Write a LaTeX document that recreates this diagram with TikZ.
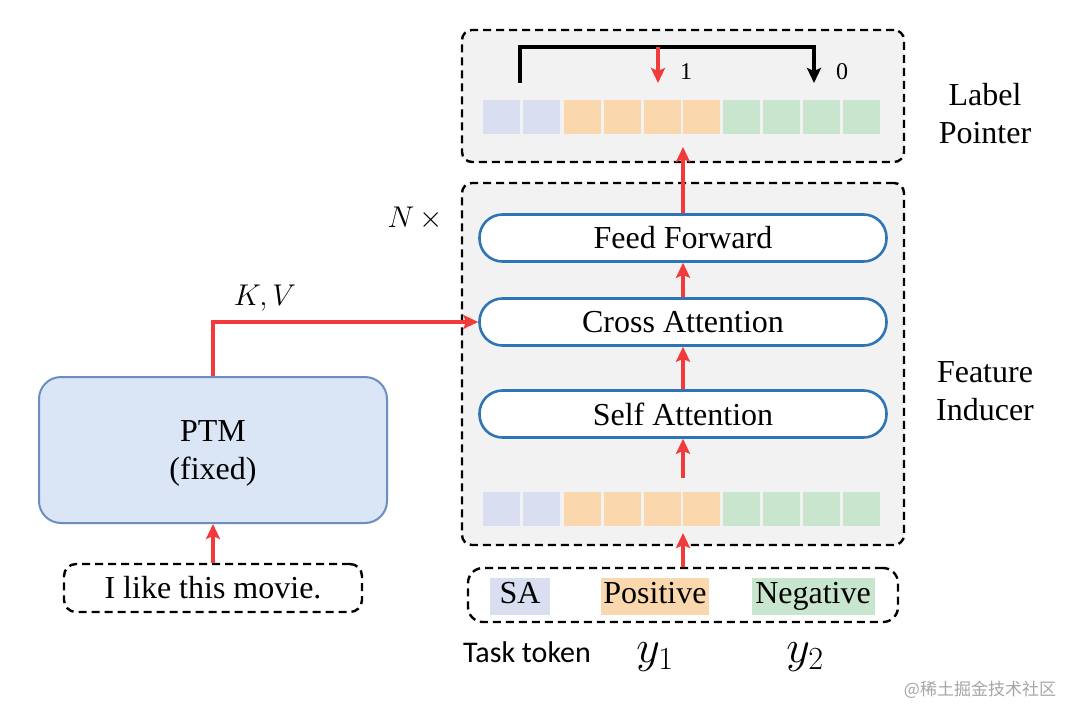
\documentclass[tikz,border=0pt]{standalone}
\usepackage{fix-cm}
\usepackage{fontspec}
\setmainfont{Liberation Serif}
\newfontfamily\calib{Carlito}
\newfontfamily\cjk{Noto Sans CJK SC}
\usetikzlibrary{arrows.meta}
\definecolor{boxgray}{HTML}{F2F2F2}
\definecolor{redarr}{HTML}{F23A3A}
\definecolor{pillblue}{HTML}{2E75B6}
\definecolor{ptmfill}{HTML}{DAE6F6}
\definecolor{ptmdraw}{HTML}{6C8EBF}
\definecolor{tokblue}{HTML}{D9DFF0}
\definecolor{tokorange}{HTML}{FAD7AC}
\definecolor{tokgreen}{HTML}{C8E6CE}
\tikzset{
  dashbox/.style={draw=black, line width=2.4pt, dash pattern=on 8pt off 5pt, rounded corners=10pt, inner sep=0pt},
  grayfill/.style={fill=boxgray},
  pill/.style={draw=pillblue, line width=2.6pt, fill=white, rounded corners=23pt, minimum width=407pt, minimum height=47pt, inner sep=0pt, font=\fontsize{32}{38}\selectfont},
  redarrow/.style={draw=redarr, line width=3.6pt, -{Stealth[length=15pt,width=14pt,inset=3pt]}},
  blackarrow/.style={draw=black, line width=3.4pt, -{Stealth[length=15pt,width=14pt,inset=3pt]}},
  tok/.style={minimum width=37pt, minimum height=34pt, inner sep=0pt, draw=none},
  chip/.style={minimum height=37pt, inner sep=0pt, text height=22pt, text depth=7pt, font=\fontsize{32}{38}\selectfont},
  bigtext/.style={font=\fontsize{32}{38}\selectfont, align=center, inner sep=0pt},
}
\begin{document}
\begin{tikzpicture}[x=1pt,y=-1pt]
\useasboundingbox[fill=white] (0,0) rectangle (1079,720);

% containers
\node[dashbox, grayfill, minimum width=442pt, minimum height=132pt] (lp) at (683,96) {};
\node[dashbox, grayfill, minimum width=442pt, minimum height=362pt] (fi) at (683,364) {};
\node[dashbox, rounded corners=15pt, minimum width=430pt, minimum height=54pt] (inp) at (683,595) {};
\node[dashbox, rounded corners=12pt, minimum width=298pt, minimum height=48pt, font=\fontsize{32}{38}\selectfont] (movie) at (213,588) {I like this movie.};

% token rows
\foreach \x/\c [count=\i] in {483/tokblue,523/tokblue,564/tokorange,604/tokorange,644/tokorange,683/tokorange,723/tokgreen,763/tokgreen,803/tokgreen,843/tokgreen}{
  \node[tok, fill=\c, anchor=north west] (t\i) at (\x,100) {};
  \node[tok, fill=\c, anchor=north west] (b\i) at (\x,492) {};
}

% pills
\node[pill] (ff) at (683,238) {Feed Forward};
\node[pill] (ca) at (683,322) {Cross Attention};
\node[pill] (sa) at (683,414) {Self Attention};

% PTM
\node[draw=ptmdraw, line width=2pt, fill=ptmfill, rounded corners=22pt, minimum width=348pt, minimum height=146pt, bigtext, text depth=0pt] (ptm) at (213,450) {PTM\\(fixed)};

% chips
\node[chip, fill=tokblue, minimum width=60pt] (csa) at (520,596) {SA};
\node[chip, fill=tokorange, minimum width=108pt] (cpos) at (655,596) {Positive};
\node[chip, fill=tokgreen, minimum width=123pt] (cneg) at (813,596) {Negative};

% coordinates
\coordinate (lpin) at (683,147);
\coordinate (bout) at (683,478);
\coordinate (bin) at (683,533);
\coordinate (bl) at (520,83);
\coordinate (blt) at (520,47);
\coordinate (brt) at (814,47);
\coordinate (br) at (814,83);
\coordinate (rt) at (658,47);
\coordinate (rb) at (658,83);

% arrows
\draw[redarrow] (ff.north) -- (lpin);
\draw[redarrow] (ca.north) -- (ff.south);
\draw[redarrow] (sa.north) -- (ca.south);
\draw[redarrow] (bout) -- (sa.south);
\draw[redarrow] (inp.north) -- (bin);
\draw[redarrow] (movie.north) -- (ptm.south);
\draw[redarrow] (ptm.north) |- (ca.west);
\draw[blackarrow, line join=miter] (bl) -- (blt) -- (brt) -- (br);
\draw[redarrow] (rt) -- (rb);

% labels
\node[font=\fontsize{24}{28}\selectfont] (one) at (686,72) {1};
\node[font=\fontsize{24}{28}\selectfont] (zero) at (842,72) {0};
\node[bigtext] (lbl1) at (985,114) {Label\\Pointer};
\node[bigtext] (lbl2) at (985,391) {Feature\\Inducer};
\node[font=\fontsize{30}{36}\selectfont] (nx) at (415,218) {$N\,\times$};
\node[font=\fontsize{30}{36}\selectfont] (kv) at (265,298) {$K,V$};
\node[font=\calib\fontsize{30}{36}\selectfont] (task) at (527,652) {Task token};
\node[font=\fontsize{46}{54}\selectfont] (y1) at (655,657) {$y_1$};
\node[font=\fontsize{46}{54}\selectfont] (y2) at (805,657) {$y_2$};
\node[font=\cjk\fontsize{17}{20}\selectfont, text=black!35] (wm) at (980,690) {@稀土掘金技术社区};
\end{tikzpicture}
\end{document}
